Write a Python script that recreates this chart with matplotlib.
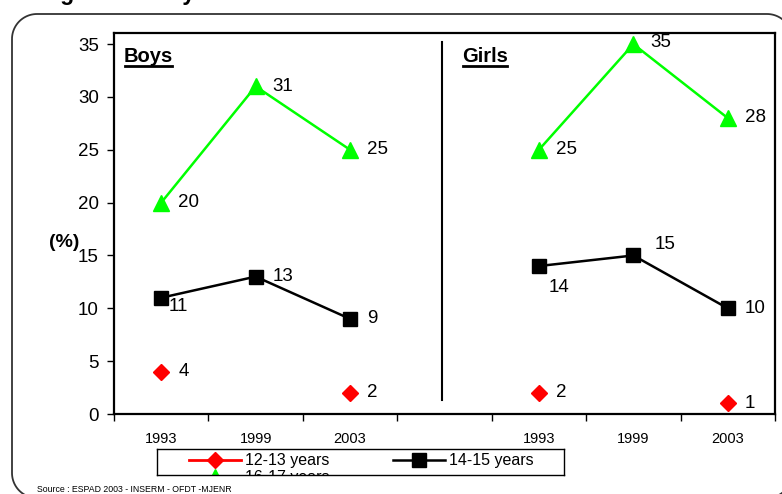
import numpy as np
import matplotlib
matplotlib.use("Agg")
import matplotlib.pyplot as plt
from matplotlib.patches import PathPatch
from matplotlib.path import Path
from matplotlib.transforms import IdentityTransform
from matplotlib.lines import Line2D
from matplotlib.ticker import FixedLocator, NullFormatter, FixedFormatter

plt.rcParams['font.family'] = ['Liberation Sans', 'DejaVu Sans']

# ---- data -------------------------------------------------------------
years = ["1993", "1999", "2003"]
groups = ["Boys", "Girls"]
series_names = ["12-13 years", "14-15 years", "16-17 years"]

boys_12_13 = [4, np.nan, 2]
boys_14_15 = [11, 13, 9]
boys_16_17 = [20, 31, 25]

girls_12_13 = [2, np.nan, 1]
girls_14_15 = [14, 15, 10]
girls_16_17 = [25, 35, 28]

source_text = "Source : ESPAD 2003 - INSERM - OFDT -MJENR"
title_text = "Regular use by sex"

# ---- styles -----------------------------------------------------------
styles = {
    "12-13 years": dict(color="#FF0000", marker="D", ms=8.5, lw=2.0),
    "14-15 years": dict(color="#000000", marker="s", ms=10.5, lw=1.8),
    "16-17 years": dict(color="#00FF00", marker="^", ms=11, lw=1.8),
}

# label offsets in pixels (dx, dy) for each point
offsets = {
    ("Boys", "12-13 years"): [(17, 0), None, (17, 0)],
    ("Boys", "14-15 years"): [(7, -9), (17, 0), (17, 0)],
    ("Boys", "16-17 years"): [(17, 0), (17, 0), (17, 0)],
    ("Girls", "12-13 years"): [(17, 0), None, (17, 0)],
    ("Girls", "14-15 years"): [(10, -21), (21, 11), (17, 0)],
    ("Girls", "16-17 years"): [(17, 0), (17, 2), (17, 1)],
}

W, H = 782, 494
fig = plt.figure(figsize=(W / 100, H / 100), dpi=100)
ax = fig.add_axes([114 / W, 80 / H, 661 / W, 381 / H])

data = {
    "Boys": [boys_12_13, boys_14_15, boys_16_17],
    "Girls": [girls_12_13, girls_14_15, girls_16_17],
}
x_start = {"Boys": 0, "Girls": 4}

for g in groups:
    xs = np.arange(len(years)) + x_start[g]
    for name, vals in zip(series_names, data[g]):
        st = styles[name]
        ax.plot(xs, vals, color=st["color"], lw=st["lw"], marker=st["marker"],
                ms=st["ms"], mec=st["color"], mfc=st["color"], zorder=3,
                clip_on=False)
        for xi, v, off in zip(xs, vals, offsets[(g, name)]):
            if np.isnan(v) or off is None:
                continue
            ax.annotate(f"{v:g}", (xi, v), xytext=off, textcoords="offset pixels",
                        ha="left", va="center", fontsize=13.5, color="black")

# divider between the two panels
ax.plot([2.97, 2.97], [35.2, 1.3], color="black", lw=1.5)

ax.set_xlim(-0.5, 6.5)
ax.set_ylim(0, 36.05)
ax.set_yticks(np.arange(0, 36, 5))
ax.tick_params(axis="y", direction="out", length=5, width=1, labelsize=13.5, pad=6)

ax.xaxis.set_major_locator(FixedLocator(np.arange(-0.5, 7, 1)))
ax.xaxis.set_major_formatter(NullFormatter())
ax.xaxis.set_minor_locator(FixedLocator(np.arange(0, 7)))
ax.xaxis.set_minor_formatter(FixedFormatter(years + [""] + years))
ax.tick_params(axis="x", which="major", direction="out", length=5, width=1)
ax.tick_params(axis="x", which="minor", length=0, labelsize=10.5, pad=13)

for sp in ax.spines.values():
    sp.set_linewidth(1.6)
    sp.set_color("black")

# panel headings, bold and underlined
heads = []
for label, xpx in zip(groups, [10, 348]):
    t = ax.text(xpx / 661, 1 - 24 / 381, label, transform=ax.transAxes,
                fontsize=14.5, fontweight="bold", ha="left", va="center")
    heads.append(t)
renderer = fig.canvas.get_renderer()
for t in heads:
    bb = t.get_window_extent(renderer)
    fig.add_artist(Line2D([bb.x0 + 1, bb.x1 - 1], [bb.y0 + 0.5, bb.y0 + 0.5],
                          transform=IdentityTransform(), color="black", lw=2.0))

fig.text(49 / W, 1 - 242 / H, "(%)", fontsize=14, fontweight="bold",
         ha="left", va="center")

# legend box (fixed height, third entry partly hidden)
lax = fig.add_axes([157 / W, 19 / H, 407 / W, 26 / H])
lax.set_xlim(0, 407)
lax.set_ylim(0, 26)
lax.set_xticks([])
lax.set_yticks([])
for sp in lax.spines.values():
    sp.set_linewidth(1.0)
    sp.set_color("black")
legend_pos = [(32, 15), (236, 15), (32, -2)]
for name, (lx, ly) in zip(series_names, legend_pos):
    st = styles[name]
    lax.plot([lx, lx + 52], [ly, ly], color=st["color"], lw=st["lw"])
    lax.plot([lx + 26], [ly], marker=st["marker"], ms=st["ms"], color=st["color"],
             mec=st["color"])
    lax.text(lx + 56, ly, name, fontsize=11.5, ha="left", va="center",
             clip_on=True)


# rounded outer frame, built in pixel coordinates (y measured from the top)
def rounded_frame(x0, y0, x1, y1, r, n=24):
    def arc(cx, cy, a0, a1):
        a = np.radians(np.linspace(a0, a1, n))
        return np.column_stack([cx + r * np.cos(a), cy - r * np.sin(a)])
    pts = np.vstack([
        arc(x0 + r, y0 + r, 180, 90),     # top-left
        arc(x1 - r, y0 + r, 90, 0),       # top-right
        arc(x1 - r, y1 - r, 0, -90),      # bottom-right
        arc(x0 + r, y1 - r, -90, -180),   # bottom-left
    ])
    pts = np.vstack([pts, pts[:1]])
    pts[:, 1] = H - pts[:, 1]
    return Path(pts)


frame = PathPatch(rounded_frame(12, 14, 792, 498, 25), transform=IdentityTransform(),
                  fill=False, edgecolor="#333333", lw=1.3)
fig.add_artist(frame)

fig.text(37 / W, 1 - 489 / H, source_text, fontsize=6.3, ha="left", va="center")
fig.text(31 / W, 1.0, title_text, fontsize=16.5, fontweight="bold",
         ha="left", va="baseline")

fig.savefig("out.png", dpi=100)
